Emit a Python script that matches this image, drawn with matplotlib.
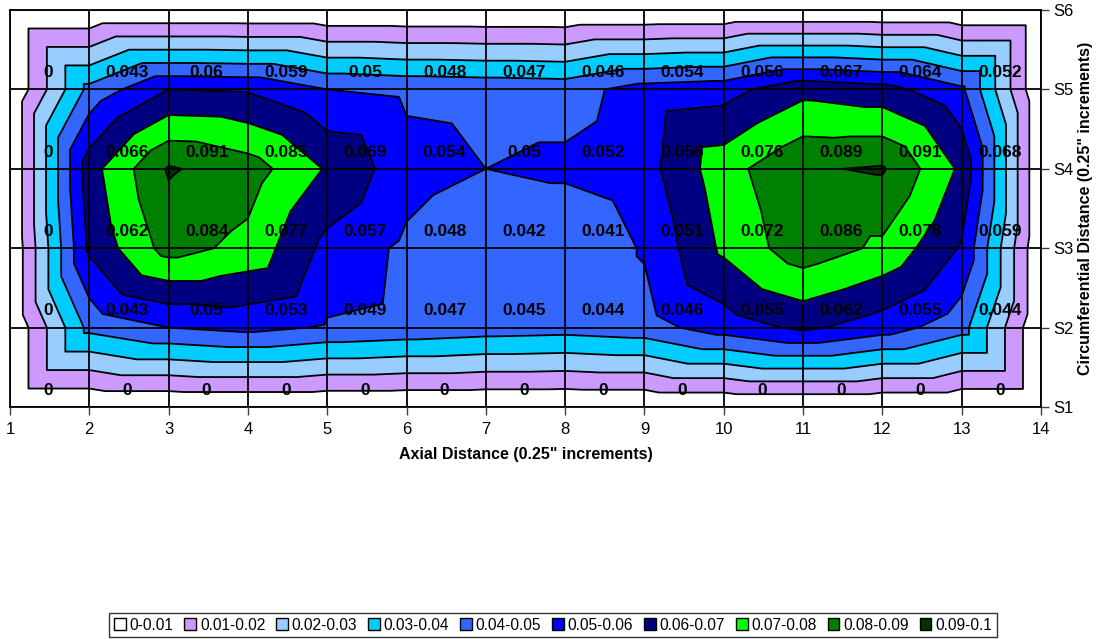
import numpy as np
import matplotlib
matplotlib.use('Agg')
import matplotlib.pyplot as plt
import matplotlib.tri as mtri
from matplotlib.patches import Patch

plt.rcParams['font.family'] = ['Liberation Sans', 'DejaVu Sans']

axial = list(range(1, 15))
row_names = ['S1', 'S2', 'S3', 'S4', 'S5', 'S6']
s1 = [0] * 14
s2 = [0, 0.043, 0.05, 0.053, 0.049, 0.047, 0.045, 0.044, 0.046, 0.055, 0.062, 0.055, 0.044, 0]
s3 = [0, 0.062, 0.084, 0.077, 0.057, 0.048, 0.042, 0.041, 0.051, 0.072, 0.086, 0.078, 0.059, 0]
s4 = [0, 0.066, 0.091, 0.085, 0.069, 0.054, 0.05, 0.052, 0.056, 0.076, 0.089, 0.091, 0.068, 0]
s5 = [0, 0.043, 0.06, 0.059, 0.05, 0.048, 0.047, 0.046, 0.054, 0.056, 0.067, 0.064, 0.052, 0]
s6 = [0] * 14
levels = [0, 0.01, 0.02, 0.03, 0.04, 0.05, 0.06, 0.07, 0.08, 0.09, 0.1]
band_labels = ['0-0.01', '0.01-0.02', '0.02-0.03', '0.03-0.04', '0.04-0.05',
               '0.05-0.06', '0.06-0.07', '0.07-0.08', '0.08-0.09', '0.09-0.1']
band_colors = ['#FFFFFF', '#CC99FF', '#99CCFF', '#00CCFF', '#3366FF',
               '#0000FF', '#000080', '#00FF00', '#008000', '#003300']

Z = np.array([s1, s2, s3, s4, s5, s6], dtype=float)
ny, nx = Z.shape
yv = np.arange(1, ny + 1)
X, Y = np.meshgrid(axial, yv)

# Excel-style surface mesh: every cell split into 4 triangles around its centre
px = list(X.ravel().astype(float))
py = list(Y.ravel().astype(float))
pz = list(Z.ravel())
tris = []
for j in range(ny - 1):
    for i in range(nx - 1):
        bl = j * nx + i
        br = bl + 1
        tl = bl + nx
        tr = tl + 1
        corners = [Z[j, i], Z[j, i + 1], Z[j + 1, i], Z[j + 1, i + 1]]
        c = len(px)
        px.append(axial[i] + 0.5)
        py.append(yv[j] + 0.5)
        pz.append((max(corners) + min(corners)) / 2)
        tris += [[bl, br, c], [br, tr, c], [tr, tl, c], [tl, bl, c]]
tri = mtri.Triangulation(np.array(px), np.array(py), np.array(tris))
zz = np.array(pz)

fig = plt.figure(figsize=(10.97, 6.39), dpi=100)
ax = fig.add_axes([10 / 1097, 1 - 407 / 639, (1041 - 10) / 1097, (407 - 10) / 639])

ax.tricontourf(tri, zz, levels=levels, colors=band_colors, zorder=1)
ax.tricontour(tri, zz, levels=levels[1:-1], colors='black', linewidths=1.3, zorder=2)

ax.set_xlim(1, 14)
ax.set_ylim(1, 6)
ax.set_xticks(axial)
ax.set_xticklabels([str(a) for a in axial], fontsize=12)
ax.yaxis.tick_right()
ax.set_yticks(yv)
ax.set_yticklabels(row_names, fontsize=12)
ax.tick_params(axis='x', direction='out', length=6, width=1, color='#404040', pad=5)
ax.tick_params(axis='y', direction='out', length=6, width=1, color='#404040', pad=3)
ax.grid(True, color='black', linewidth=1.3, zorder=3)
ax.set_axisbelow(False)
for sp in ax.spines.values():
    sp.set_color('black')
    sp.set_linewidth(1.3)

ax.set_xlabel('Axial Distance (0.25" increments)', fontsize=11.5, fontweight='bold', labelpad=7)
ax.yaxis.set_label_position('right')
ax.set_ylabel('Circumferential Distance (0.25" increments)', fontsize=11.5, fontweight='bold',
              labelpad=3)

for j in range(ny - 1):
    for i in range(nx - 1):
        v = Z[j, i]
        txt = '0' if v == 0 else str(v)
        ax.text(axial[i] + 0.48, yv[j] + 0.21, txt, ha='center', va='center',
                fontsize=12.5, fontweight='bold', color='black', zorder=5)

handles = [Patch(facecolor=c, edgecolor='black', linewidth=1) for c in band_colors]
leg = fig.legend(handles, band_labels, loc='center', bbox_to_anchor=(553 / 1097, 1 - 625 / 639),
                 ncol=10, fontsize=11.2, frameon=True, fancybox=False, handlelength=0.75,
                 handleheight=0.75, handletextpad=0.25, columnspacing=0.7, borderpad=0.3,
                 borderaxespad=0)
leg.get_frame().set_edgecolor('black')
leg.get_frame().set_linewidth(1)

fig.savefig('out.png', dpi=100)
